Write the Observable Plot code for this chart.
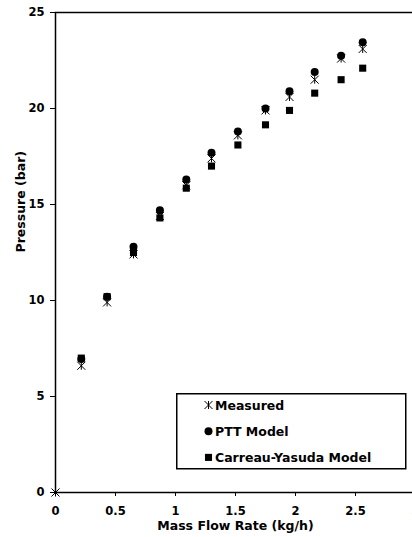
<!DOCTYPE html>
<html><head><meta charset="utf-8">
<script src="https://cdn.jsdelivr.net/npm/d3@7"></script>
<script src="https://cdn.jsdelivr.net/npm/@observablehq/plot@0.6"></script>
<style>
html,body{margin:0;padding:0;background:#fff;overflow:hidden;}
#wrap{position:relative;width:412px;height:537px;overflow:hidden;}
#wrap svg{max-width:none !important;}
#legend{position:absolute;left:176px;top:393px;}
</style></head><body><div id="wrap"></div>
<script>
// ---- data ----
const flowRate      = [0, 0.215, 0.43, 0.65, 0.87, 1.09, 1.30, 1.52, 1.75, 1.95, 2.16, 2.38, 2.56];
const measured      = [0, 6.6, 9.9, 12.4, 14.4, 16.0, 17.4, 18.6, 19.9, 20.6, 21.5, 22.6, 23.1];
const pttModel      = [null, 6.95, 10.2, 12.8, 14.7, 16.3, 17.7, 18.8, 20.0, 20.9, 21.9, 22.75, 23.45];
const carreauYasuda = [null, 7.0, 10.2, 12.5, 14.3, 15.85, 17.0, 18.1, 19.15, 19.9, 20.8, 21.5, 22.1];
const xTicks = [0, 0.5, 1, 1.5, 2, 2.5, 3];
const yTicks = [0, 5, 10, 15, 20, 25];
const seriesNames = ["Measured", "PTT Model", "Carreau-Yasuda Model"];
const xTitle = "Mass Flow Rate (kg/h)";
const yTitle = "Pressure (bar)";

const FONT = "'DejaVu Sans', sans-serif";

// Excel-style star marker: X plus a vertical stroke
const starSymbol = {
  draw(context, size) {
    const r = Math.sqrt(size / Math.PI);
    context.moveTo(-r, -r); context.lineTo(r, r);
    context.moveTo(-r, r); context.lineTo(r, -r);
    context.moveTo(0, -r); context.lineTo(0, r);
  }
};

const rows = (vals) => flowRate.map((x, i) => ({x, y: vals[i]})).filter(d => d.y != null);

const chart = Plot.plot({
  width: 415, height: 537,
  marginTop: 12, marginLeft: 55, marginRight: 0, marginBottom: 45,
  style: {fontFamily: FONT, fontWeight: "bold", fontSize: "11.5px", color: "black", background: "white"},
  x: {domain: [0, 3], ticks: xTicks, tickFormat: d => String(d), label: null, tickSize: 4, tickPadding: 10},
  y: {domain: [0, 25], ticks: yTicks, tickFormat: d => String(d), label: null, tickSize: 5, tickPadding: 6},
  marks: [
    Plot.frame({stroke: "black", strokeWidth: 1.5}),
    Plot.dot(rows(measured), {x: "x", y: "y", symbol: starSymbol, r: 4, stroke: "black", fill: "none", strokeWidth: 1}),
    Plot.dot(rows(pttModel), {x: "x", y: "y", symbol: "circle", r: 4, fill: "black", stroke: "none"}),
    Plot.dot(rows(carreauYasuda), {x: "x", y: "y", symbol: "square", r: 4, fill: "black", stroke: "none"}),
    Plot.text([xTitle], {frameAnchor: "bottom", dy: 37.5, fontSize: 12.5, fontWeight: "bold", fill: "black"}),
    Plot.text([yTitle], {frameAnchor: "left", dx: -35, rotate: -90, fontSize: 12.5, fontWeight: "bold", fill: "black"})
  ]
});
document.getElementById("wrap").appendChild(chart);

// ---- legend ----
const lg = d3.select("#wrap").append("svg").attr("id", "legend")
  .attr("width", 231).attr("height", 77);
lg.append("rect").attr("x", 0.75).attr("y", 0.75).attr("width", 229).attr("height", 75)
  .attr("fill", "white").attr("stroke", "black").attr("stroke-width", 1.5);
const entries = [
  {name: seriesNames[0], sym: starSymbol, fill: "none", stroke: "black"},
  {name: seriesNames[1], sym: d3.symbolCircle, fill: "black", stroke: "none"},
  {name: seriesNames[2], sym: d3.symbolSquare, fill: "black", stroke: "none"}
];
entries.forEach((e, i) => {
  const cy = 12 + i * 26.2;
  lg.append("path").attr("transform", `translate(32.5,${cy})`)
    .attr("d", d3.symbol(e.sym, 16 * Math.PI)())
    .attr("fill", e.fill).attr("stroke", e.stroke).attr("stroke-width", 1);
  lg.append("text").attr("x", 39).attr("y", cy).attr("dy", "0.36em")
    .attr("font-family", FONT).attr("font-weight", "bold").attr("font-size", 12.5)
    .attr("fill", "black").text(e.name);
});
</script></body></html>
